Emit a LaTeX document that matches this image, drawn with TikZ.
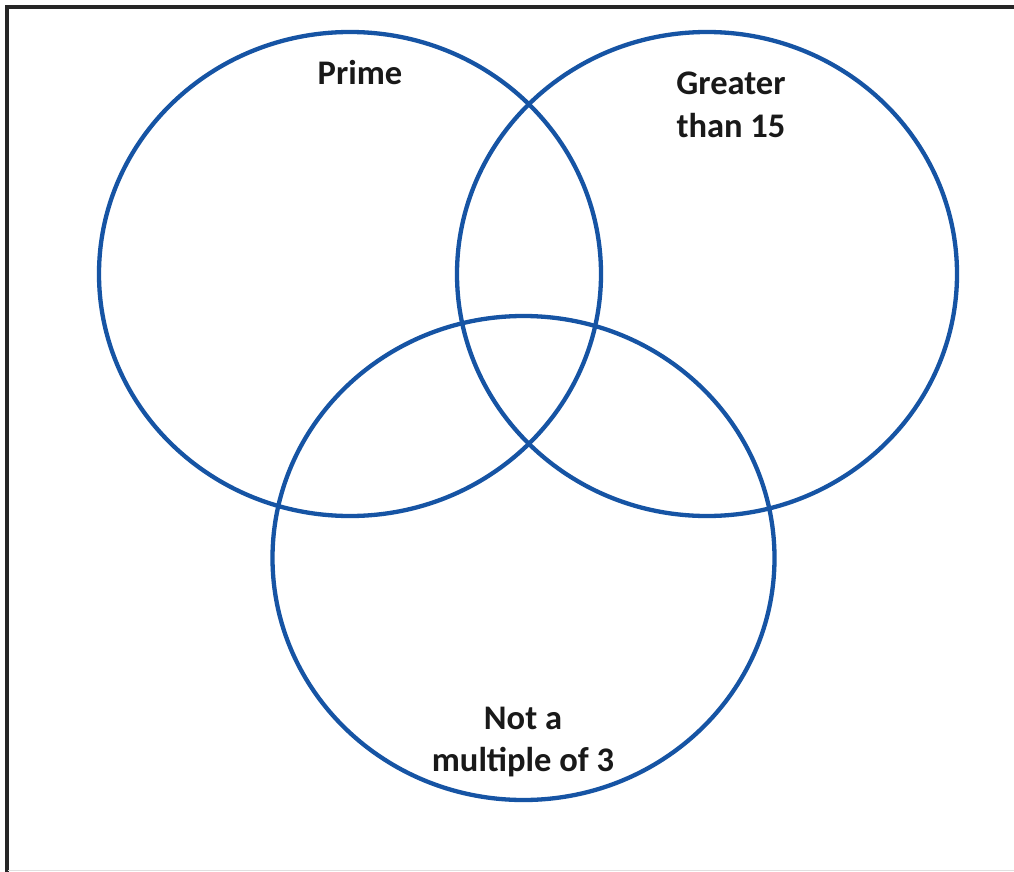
\documentclass[tikz,border=0pt]{standalone}
\usepackage{fontspec}
\setmainfont{Carlito}
\definecolor{vennblue}{RGB}{22,84,164}
\begin{document}
\begin{tikzpicture}[x=1pt,y=-1pt,
  setring/.style={draw=vennblue,line width=4.3pt},
  setlabel/.style={font=\bfseries\fontsize{34.5}{42}\selectfont,text=black!90,anchor=base,inner sep=0pt},
  frameline/.style={draw=black!85,line width=3.5pt}]
\useasboundingbox (0,0) rectangle (1014,872);
\fill[white] (0,0) rectangle (1014,872);
% frame
\coordinate (tl) at (7,7);
\coordinate (tr) at (1014,7);
\coordinate (bl) at (7,872);
\draw[frameline] (tr) -- (tl) -- (bl);
\draw[black!12,line width=1pt] (8,870.5) -- (1014,870.5);
% circles
\draw[setring] (350,274) ellipse [x radius=251, y radius=242];
\draw[setring] (707,274) ellipse [x radius=250, y radius=242];
\draw[setring] (523.5,558) ellipse [x radius=251, y radius=242];
% labels
\node[setlabel] (prime) at (360,85) {Prime};
\node[setlabel] (gt1) at (731,95) {Greater};
\node[setlabel] (gt2) at (731,137) {than 15};
\node[setlabel] (nm1) at (523,729) {Not a};
\node[setlabel] (nm2) at (523,771) {multiple of 3};
\end{tikzpicture}
\end{document}
